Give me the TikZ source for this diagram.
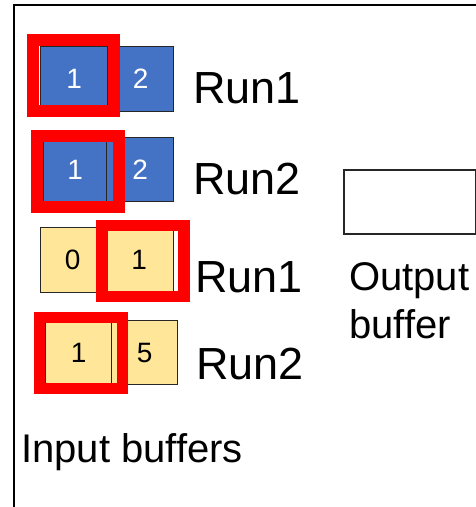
\documentclass[tikz,border=0pt]{standalone}
\usepackage{fontspec}
\setmainfont{Liberation Sans}
\definecolor{blueFill}{HTML}{4472C4}
\definecolor{yellowFill}{HTML}{FFE699}
\definecolor{redSq}{HTML}{FF0000}
\begin{document}
\begin{tikzpicture}[x=1pt,y=-1pt,
  cell/.style={draw=black!85, line width=1.3pt, inner sep=0pt, anchor=north west, minimum height=65pt},
  bluecell/.style={cell, fill=blueFill, text=white, font=\fontsize{28}{32}\selectfont},
  yelcell/.style={cell, fill=yellowFill, text=black, font=\fontsize{28}{32}\selectfont},
  redsq/.style={draw=redSq, line width=12pt, inner sep=0pt, anchor=center},
  runlabel/.style={anchor=base west, inner sep=0pt, font=\fontsize{45}{54}\selectfont},
  biglabel/.style={anchor=base west, inner sep=0pt, font=\fontsize{40}{48}\selectfont, align=left}
]
\useasboundingbox (0,0) rectangle (476,507);
% frame
\coordinate (ftr) at (477,5);
\coordinate (ftl) at (14,5);
\coordinate (fbl) at (14,508);
\draw[line width=2pt] (ftr) -- (ftl) -- (fbl);

% row 1
\node[bluecell, minimum width=67pt] (a1) at (40,46) {1};
\node[bluecell, minimum width=66pt] (a2) at (107,46) {2};
\node[redsq, minimum width=81pt, minimum height=71pt] (r1) at (73.5,75.5) {};
\node[runlabel] (l1) at (193,103) {Run1};

% row 2
\node[bluecell, minimum width=63pt, minimum height=64pt] (b1) at (43,137) {1};
\node[bluecell, minimum width=67pt, minimum height=64pt] (b2) at (106,137) {2};
\node[redsq, minimum width=82pt, minimum height=71pt] (r2) at (78,171.5) {};
\node[runlabel] (l2) at (193,194) {Run2};

% row 3
\node[yelcell, minimum width=64pt] (c0) at (40,227) {0};
\node[yelcell, minimum width=69pt] (c1) at (104,227) {1};
\node[redsq, minimum width=82pt, minimum height=71pt, line width=11.5pt] (r3) at (143,261) {};
\node[runlabel] (l3) at (195,292) {Run1};

% row 4
\node[yelcell, minimum width=66pt, minimum height=64pt] (d1) at (45,320) {1};
\node[yelcell, minimum width=66pt, minimum height=64pt] (d5) at (111,320) {5};
\node[redsq, minimum width=82.5pt, minimum height=71.5pt, line width=11pt] (r4) at (80.75,352.75) {};
\node[runlabel] (l4) at (196,379) {Run2};

% output buffer
\node[draw=black!85, line width=1.5pt, anchor=north west, minimum width=132pt, minimum height=64pt, inner sep=0pt] (ob) at (343,169) {};
\node[biglabel] (ol1) at (349,290) {Output};
\node[biglabel] (ol2) at (349,338) {buffer};

% input buffers
\node[biglabel] (ib) at (21,462) {Input buffers};
\end{tikzpicture}
\end{document}
